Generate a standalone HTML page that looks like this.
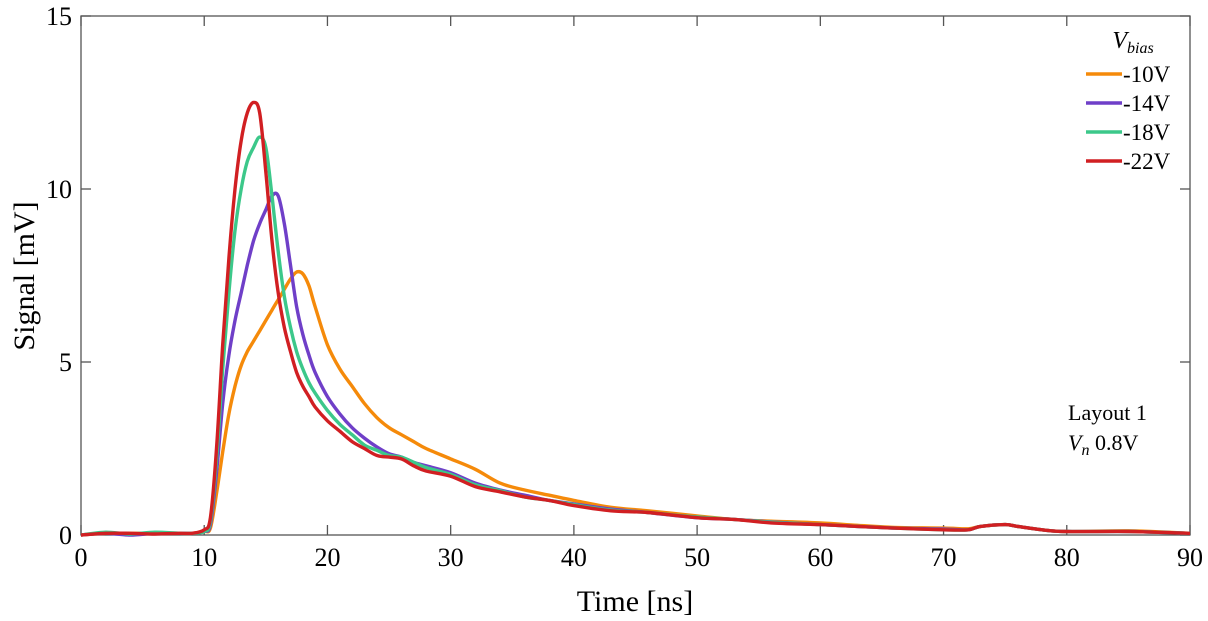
<!DOCTYPE html>
<html><head><meta charset="utf-8"><style>
body{margin:0;background:#fff;}
svg{display:block;font-family:"Liberation Serif",serif;}
</style></head><body>
<svg id="chart" width="1208" height="621" viewBox="0 0 1208 621">
<g id="axes"></g><g id="series"></g>
<g>
<text x="1133" y="48" font-size="24" font-style="italic" text-anchor="middle">V<tspan font-size="16" dy="5">bias</tspan></text>
</g>
<text x="1068" y="420" font-size="22">Layout 1</text>
<text x="1068" y="450" font-size="22"><tspan font-style="italic">V</tspan><tspan font-style="italic" font-size="16" dy="5">n</tspan><tspan dy="-5"> 0.8V</tspan></text>
<text x="635" y="611" font-size="30" text-anchor="middle">Time [ns]</text>
<text transform="translate(34,276) rotate(-90)" font-size="30" text-anchor="middle">Signal [mV]</text>
</svg>
<script>
const times=[0,2,4,6,8,9,10,10.5,11,11.5,12,12.5,13,13.5,14,14.5,15,15.5,16,16.5,17,17.5,18,18.5,19,20,21,22,23,24,25,26,27,28,30,32,34,36,38,40,43,46,50,53,56,60,63,66,70,72,73,75,76,78,80,85,90];
const seriesNames=["-10V","-14V","-18V","-22V"];
const v10=[0,0.05,0.05,0.05,0.05,0.05,0.1,0.2,1.2,2.4,3.5,4.3,4.9,5.3,5.6,5.9,6.2,6.5,6.8,7.1,7.4,7.6,7.55,7.2,6.6,5.5,4.8,4.3,3.8,3.4,3.1,2.9,2.7,2.5,2.2,1.9,1.5,1.3,1.15,1.0,0.8,0.7,0.55,0.45,0.4,0.35,0.28,0.22,0.2,0.18,0.25,0.3,0.25,0.15,0.1,0.12,0.05];
const v14=[0,0.05,0.0,0.05,0.05,0.05,0.1,0.3,1.8,3.8,5.2,6.2,7.0,7.8,8.5,9.0,9.4,9.8,9.8,9.0,7.8,6.6,5.8,5.2,4.7,4.0,3.5,3.1,2.8,2.55,2.35,2.25,2.1,2.0,1.8,1.5,1.3,1.15,1.0,0.9,0.75,0.65,0.5,0.45,0.38,0.3,0.25,0.2,0.17,0.15,0.25,0.3,0.25,0.15,0.1,0.1,0.05];
const v18=[0,0.08,0.03,0.08,0.05,0.05,0.1,0.4,2.2,4.8,7.0,8.8,10.0,10.8,11.2,11.5,11.2,9.8,8.2,6.9,6.0,5.3,4.8,4.4,4.1,3.6,3.2,2.9,2.6,2.45,2.3,2.25,2.1,1.95,1.75,1.45,1.28,1.1,1.0,0.88,0.72,0.65,0.52,0.45,0.37,0.3,0.25,0.2,0.15,0.15,0.25,0.3,0.25,0.15,0.1,0.1,0.05];
const v22=[0,0.05,0.05,0.03,0.05,0.05,0.15,0.5,2.5,5.5,8.0,10.0,11.4,12.2,12.5,12.2,10.5,8.5,7.0,6.0,5.3,4.7,4.3,4.0,3.7,3.3,3.0,2.7,2.5,2.3,2.25,2.2,2.0,1.85,1.7,1.4,1.25,1.1,1.0,0.85,0.7,0.65,0.5,0.45,0.35,0.3,0.25,0.2,0.15,0.15,0.25,0.3,0.25,0.15,0.1,0.1,0.05];
const allSeries=[v10,v14,v18,v22];
const colors=["#f58a0a","#6f3fc8","#3cc88a","#d11f22"];
const xTicks=[0,10,20,30,40,50,60,70,80,90];
const yTicks=[0,5,10,15];
const L=81,R=1190,T=16,B=535;
const xs=t=>L+(t-0)/(90-0)*(R-L);
const ys=v=>B-(v-0)/(15-0)*(B-T);
const NS="http://www.w3.org/2000/svg";
const ax=document.getElementById('axes');
function mk(tag,attrs,parent){const e=document.createElementNS(NS,tag);for(const k in attrs)e.setAttribute(k,attrs[k]);parent.appendChild(e);return e;}
const frame=mk('rect',{x:L,y:T,width:R-L,height:B-T,fill:'none',stroke:'#555','stroke-width':1.3},ax);


xTicks.forEach(t=>{
  mk('line',{x1:xs(t),x2:xs(t),y1:B,y2:B-10,stroke:'#555','stroke-width':1.3},ax);
  mk('line',{x1:xs(t),x2:xs(t),y1:T,y2:T+10,stroke:'#555','stroke-width':1.3},ax);
  const tx=mk('text',{x:xs(t),y:B+31,'font-size':26,'text-anchor':'middle'},ax);
  tx.textContent=t;
  
  
});
yTicks.forEach(v=>{
  mk('line',{x1:L,x2:L+10,y1:ys(v),y2:ys(v),stroke:'#555','stroke-width':1.3},ax);
  mk('line',{x1:R,x2:R-10,y1:ys(v),y2:ys(v),stroke:'#555','stroke-width':1.3},ax);
  const tx=mk('text',{x:L-9,y:ys(v)+9,'font-size':26,'text-anchor':'end'},ax);
  tx.textContent=v;
  
  
});
function smoothPath(p){
  let d='M'+p[0][0].toFixed(1)+','+p[0][1].toFixed(1);
  for(let i=0;i<p.length-1;i++){
    const p0=p[Math.max(0,i-1)],p1=p[i],p2=p[i+1],p3=p[Math.min(p.length-1,i+2)];
    const c1=[p1[0]+(p2[0]-p0[0])/6,p1[1]+(p2[1]-p0[1])/6];
    const c2=[p2[0]-(p3[0]-p1[0])/6,p2[1]-(p3[1]-p1[1])/6];
    d+=' C'+c1[0].toFixed(1)+','+c1[1].toFixed(1)+' '+c2[0].toFixed(1)+','+c2[1].toFixed(1)+' '+p2[0].toFixed(1)+','+p2[1].toFixed(1);
  }
  return d;
}
const sg=document.getElementById('series');
allSeries.forEach((vals,i)=>{
  const pts=times.map((t,j)=>[xs(t),ys(vals[j])]);
  const pl=mk('path',{d:smoothPath(pts),fill:'none',stroke:colors[i],'stroke-width':3.4,'stroke-linejoin':'round'},sg);
  
  
  const ly=74+i*29;
  const ll=mk('line',{x1:1086,x2:1122,y1:ly,y2:ly,stroke:colors[i],'stroke-width':3.5},sg);
  
  
  const lt=mk('text',{x:1123,y:ly+8,'font-size':23},sg);
  lt.textContent=seriesNames[i];
  
  
});
</script>
</body></html>
